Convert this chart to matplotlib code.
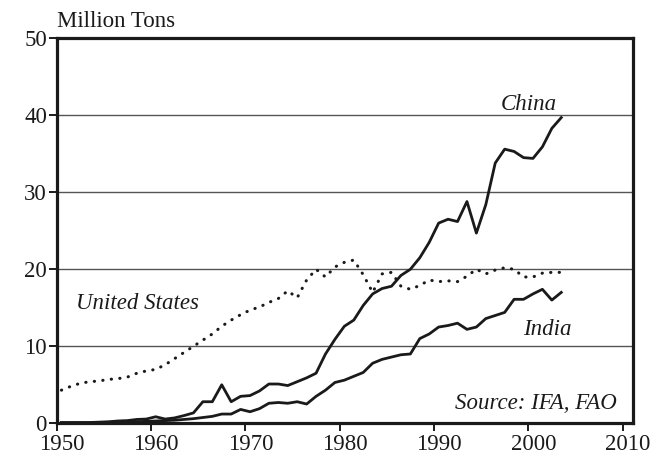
import matplotlib
matplotlib.use('Agg')
import matplotlib.pyplot as plt
import matplotlib.transforms as mtransforms
import numpy as np

# fertilizer use, million tons, 1950-2003
years = np.arange(1950, 2004)

china = [0.1, 0.1, 0.1, 0.1, 0.15, 0.2, 0.3, 0.35, 0.5, 0.55,
         0.85, 0.55, 0.7, 1.0, 1.35, 2.8, 2.8, 5.0, 2.8, 3.5,
         3.6, 4.2, 5.1, 5.1, 4.9, 5.4, 5.9, 6.5, 9.0, 10.9,
         12.6, 13.4, 15.3, 16.8, 17.5, 17.8, 19.2, 20.0, 21.5, 23.5,
         26.0, 26.5, 26.2, 28.8, 24.7, 28.4, 33.8, 35.6, 35.3, 34.5,
         34.4, 35.9, 38.3, 39.7]

us = [4.3, 4.8, 5.2, 5.4, 5.5, 5.7, 5.8, 6.0, 6.5, 6.8,
      7.0, 7.6, 8.4, 9.2, 10.0, 10.8, 11.6, 12.6, 13.4, 14.1,
      14.7, 15.1, 15.7, 16.2, 17.2, 16.3, 18.6, 20.0, 19.0, 20.3,
      20.9, 21.2, 19.3, 17.0, 19.4, 19.6, 17.8, 17.4, 17.9, 18.6,
      18.4, 18.5, 18.4, 19.1, 20.0, 19.4, 19.9, 20.2, 20.0, 19.0,
      19.0, 19.5, 19.6, 19.6]

india = [0.05, 0.05, 0.06, 0.08, 0.1, 0.12, 0.13, 0.15, 0.2, 0.25,
         0.3, 0.35, 0.4, 0.5, 0.6, 0.75, 0.9, 1.2, 1.2, 1.8,
         1.5, 1.9, 2.6, 2.7, 2.6, 2.8, 2.5, 3.5, 4.3, 5.3,
         5.6, 6.1, 6.6, 7.8, 8.3, 8.6, 8.9, 9.0, 11.0, 11.6,
         12.5, 12.7, 13.0, 12.2, 12.5, 13.6, 14.0, 14.4, 16.1, 16.1,
         16.8, 17.4, 16.0, 17.0]

xticks = [1950, 1960, 1970, 1980, 1990, 2000, 2010]
yticks = [0, 10, 20, 30, 40, 50]

plt.rcParams['font.family'] = ['Liberation Serif', 'DejaVu Serif']
ink = '#1a1a1a'
fs = 16.5

fig = plt.figure(figsize=(6.6, 4.59), dpi=100)
ax = fig.add_axes([0.0859, 0.0778, 0.8731, 0.8388])

# points sit in the middle of each year's slot
x = years + 0.5
for v in [10, 20, 30, 40]:
    ax.axhline(v, color='#555555', lw=1.0, zorder=1)

ax.plot(x, china, color=ink, lw=2.0, zorder=3)
ax.plot(x, india, color=ink, lw=2.0, zorder=3)
ax.plot(x, us, color=ink, lw=2.2, linestyle=(0, (0.1, 2.7)),
        dash_capstyle='round', zorder=3)

ax.set_xlim(1950, 2011.1)
ax.set_ylim(0, 50)
ax.set_xticks(xticks)
ax.set_yticks(yticks)
ax.tick_params(axis='both', direction='out', length=6, width=1.4,
               labelsize=fs, color=ink, labelcolor=ink)
ax.tick_params(axis='x', pad=2)
ax.tick_params(axis='y', pad=1)
# x labels sit a little right of their ticks in the original
shift = mtransforms.ScaledTranslation(5 / 100, 0, fig.dpi_scale_trans)
for lab in ax.get_xticklabels():
    lab.set_transform(lab.get_transform() + shift)
for s in ax.spines.values():
    s.set_linewidth(2.3)
    s.set_color(ink)

ax.text(2000.1, 40.7, 'China', style='italic', fontsize=fs, ha='center',
        va='baseline', color=ink)
ax.text(2002.0, 11.5, 'India', style='italic', fontsize=fs, ha='center',
        va='baseline', color=ink)
ax.text(1952.0, 14.8, 'United States', style='italic', fontsize=fs,
        ha='left', va='baseline', color=ink)
ax.text(2009.4, 1.8, 'Source: IFA, FAO', style='italic', fontsize=fs,
        ha='right', va='baseline', color=ink)

fig.text(56.7 / 660, 1 - 26.7 / 459, 'Million Tons', fontsize=fs,
         ha='left', va='baseline', color=ink)

fig.savefig('out.png', dpi=100)
